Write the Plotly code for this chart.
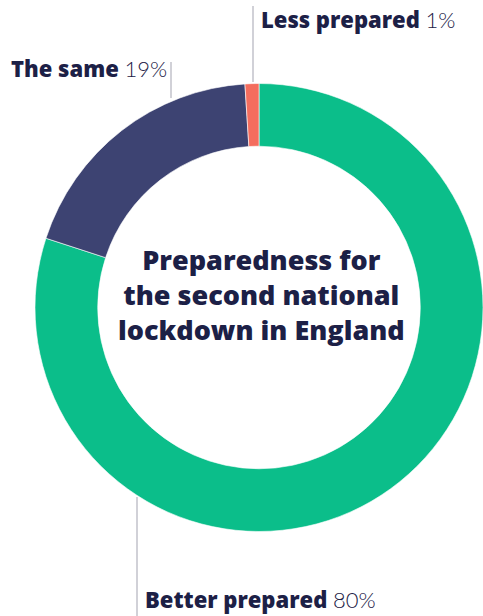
import plotly.graph_objects as go

# Survey answers, in drawing order (clockwise from 12 o'clock)
categories = ["Better prepared", "The same", "Less prepared"]
shares = [80, 19, 1]
colors = ["#0BBE8A", "#3D4372", "#F46D5E"]

title_lines = ["Preparedness for", "the second national", "lockdown in England"]

W, H = 483, 616
INK = "#1C2046"
RULE = "#A3A3B0"
BOLD_FONT = "Open Sans"

# donut geometry in pixels
R = 224
cx, cy = W - R, 307.5


def px(x):
    return x / W


def py(y):
    return (H - y) / H


fig = go.Figure(
    go.Pie(
        labels=categories,
        values=shares,
        marker=dict(colors=colors, line=dict(color="white", width=0.6)),
        hole=0.72,
        sort=False,
        direction="clockwise",
        rotation=0,
        textinfo="none",
        hoverinfo="label+percent",
        domain=dict(x=[px(cx - R), 1], y=[py(cy + R), py(cy - R)]),
        showlegend=False,
    )
)


def label(name, value):
    return (f"{name} "
            f"<span style='font-family:Lato;font-weight:300'>{value}%</span>")


label_pos = {
    "Less prepared": (259, 19),
    "The same": (9, 68),
    "Better prepared": (143, 599),
}
leader = {
    "Less prepared": (253, 6, 82),
    "The same": (171, 62, 98),
    "Better prepared": (137, 497, 616),
}

annotations = []
shapes = []
for name, value in zip(categories, shares):
    lx, ly = label_pos[name]
    annotations.append(dict(
        x=px(lx), y=py(ly), xref="paper", yref="paper",
        xanchor="left", yanchor="middle", showarrow=False,
        text=label(name, value),
        font=dict(family=BOLD_FONT, size=22, color=INK, weight=800),
    ))
    x0, y0, y1 = leader[name]
    shapes.append(dict(
        type="line", xref="paper", yref="paper",
        x0=px(x0), x1=px(x0), y0=py(y0), y1=py(y1),
        line=dict(color=RULE, width=1),
    ))

annotations.append(dict(
    x=px(261), y=py(294), xref="paper", yref="paper",
    xanchor="center", yanchor="middle", showarrow=False,
    text="<br>".join(title_lines),
    font=dict(family=BOLD_FONT, size=27, color=INK, weight=800),
))

fig.update_layout(
    width=W, height=H,
    margin=dict(l=0, r=0, t=0, b=0),
    paper_bgcolor="white",
    plot_bgcolor="white",
    annotations=annotations,
    shapes=shapes,
)

fig.write_html("out.html", config={"displayModeBar": False})
